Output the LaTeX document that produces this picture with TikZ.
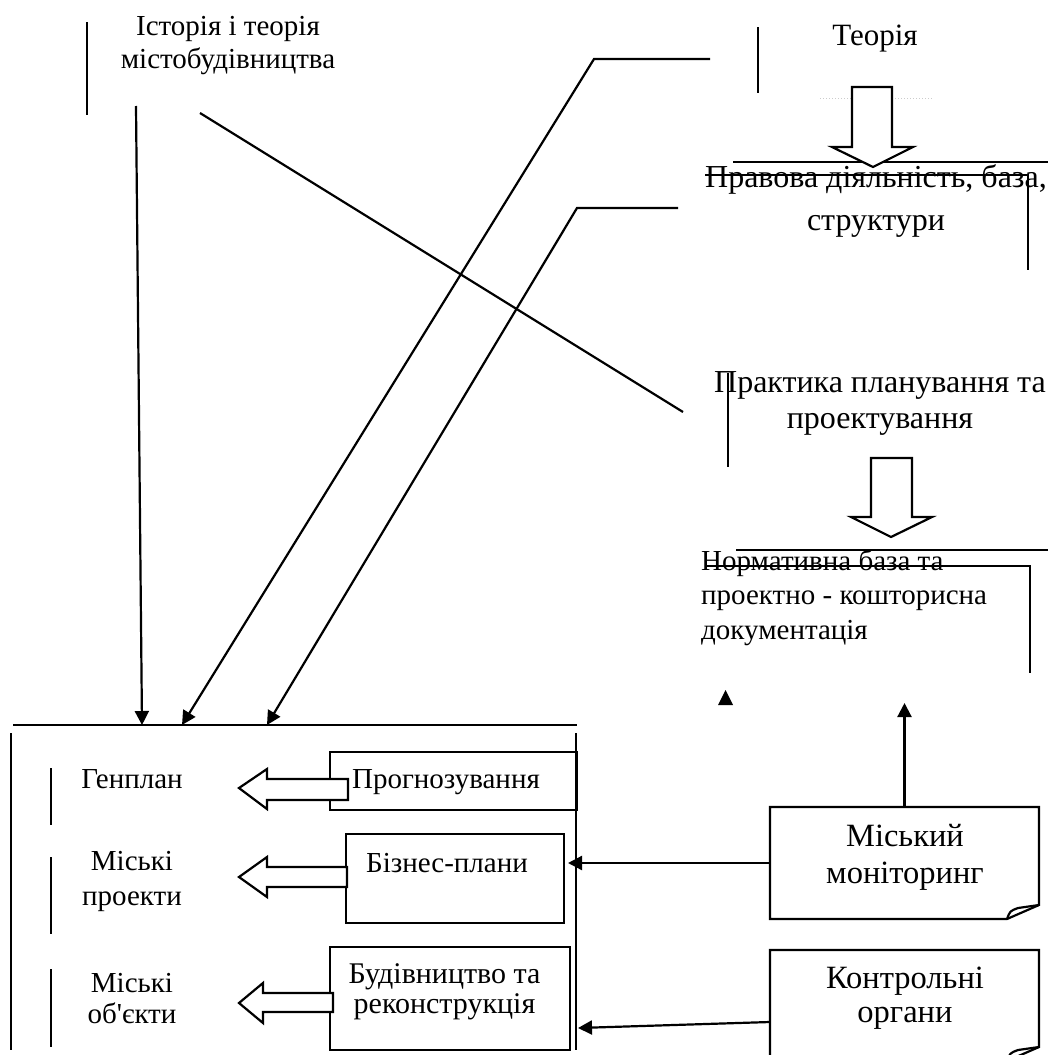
\documentclass[tikz,border=0pt]{standalone}
\usepackage{fontspec}
\setmainfont{Liberation Serif}
\usetikzlibrary{arrows.meta}

\begin{document}
\begin{tikzpicture}[x=1pt,y=-1pt,
  ln/.style={line width=2.2pt},
  arr/.style={line width=2.2pt,-{Triangle[length=14pt,width=14pt]}},
  txt/.style={font=\fontsize{29}{34}\selectfont,align=center,inner sep=0pt,anchor=base},
  box/.style={draw,line width=2.2pt,inner sep=0pt,outer sep=0pt},
  note/.style={inner sep=0pt,outer sep=0pt},
  blk/.style={draw,line width=2.2pt,fill=white,line join=miter},
]
\useasboundingbox (0,0) rectangle (1048,1055);

\node[txt,font=\fontsize{29}{33}\selectfont] (hist) at (228,68) {Історія і теорія\\містобудівництва};
\node[txt,font=\fontsize{31}{34}\selectfont] (theory) at (875,45) {Теорія};
\node[txt,font=\fontsize{32}{43}\selectfont] (law) at (876,230) {Правова діяльність, база,\\структури};
\node[txt,font=\fontsize{32}{36}\selectfont] (practice) at (880,428) {Практика планування та\\проектування};
\node[txt,align=left,anchor=base west,font=\fontsize{29}{34.5}\selectfont] (norm) at (701,639)
  {Нормативна база та\\проектно - кошторисна\\документація};

\node[txt] (genplan) at (132,788) {Генплан};
\node[txt,font=\fontsize{29}{35}\selectfont] (cproj) at (132,905) {Міські\\проекти};
\node[txt,font=\fontsize{29}{31}\selectfont] (cobj) at (132,1023) {Міські\\об\textquotesingle єкти};

\node[box,minimum width=247,minimum height=58] (forecast) at (453.5,781) {};
\node[txt] (forecast-t) at (446,788) {Прогнозування};
\node[box,minimum width=218,minimum height=89] (plans) at (455,878.5) {};
\node[txt] (plans-t) at (447,872) {Бізнес-плани};
\node[box,minimum width=240,minimum height=103] (build) at (450,998.5) {};
\node[txt,font=\fontsize{30}{30}\selectfont] (build-t) at (444.5,1013) {Будівництво та\\реконструкція};

\node[note,minimum width=269,minimum height=112] (monitor) at (904.5,863) {};
\node[txt,font=\fontsize{32.5}{37}\selectfont] (monitor-t) at (905,883) {Міський\\моніторинг};
\node[note,minimum width=269,minimum height=111] (control) at (904.5,1005.5) {};
\node[txt,font=\fontsize{32.5}{34}\selectfont] (control-t) at (905,1022) {Контрольні\\органи};

\foreach \n in {monitor,control}{
  \draw[ln] (\n.north west) -- (\n.north east) -- ([yshift=14pt]\n.south east)
    -- ([xshift=-32pt]\n.south east) -- (\n.south west) -- cycle;
  \draw[ln,line join=round] ([xshift=-32pt]\n.south east)
    .. controls ([shift={(-29pt,8pt)}]\n.south east) .. ([shift={(-21pt,11pt)}]\n.south east)
    -- ([yshift=14pt]\n.south east);
}

\coordinate (h-top) at (136,106);
\coordinate (t-end) at (710,59);
\coordinate (t-bend) at (594,59);
\coordinate (l-end) at (678,208);
\coordinate (l-bend) at (577,208);
\coordinate (d-start) at (200,113);
\coordinate (d-end) at (683,412);
\coordinate (in1) at (142,725);
\coordinate (in2) at (182,725);
\coordinate (in3) at (267,725);
\coordinate (m-up) at (904.5,703);
\coordinate (m-in) at (568,863);
\coordinate (c-in) at (578,1028);

\draw[ln] (13,725) -- (577,725);
\draw[ln] (11,733) -- (11,1050);
\draw[ln] (576,733) -- (576,1050);
\draw[ln] (51,768) -- (51,825);
\draw[ln] (51,857) -- (51,934);
\draw[ln] (51,969) -- (51,1047);
\draw[ln] (87,22) -- (87,115);
\draw[ln] (758,27) -- (758,93);
\draw[ln] (728,373) -- (728,467);
\draw[ln] (733,162) -- (1048,162);
\draw[ln] (705,175) -- (1028,175) -- (1028,270);
\draw[ln] (736,550) -- (1048,550);
\draw[ln] (707,566) -- (1030,566) -- (1030,673);
\draw[gray!40,line width=1pt,dotted] (820,98) -- (932,98);

\draw[arr] (h-top) -- (in1);
\draw[arr] (t-end) -- (t-bend) -- (in2);
\draw[arr] (l-end) -- (l-bend) -- (in3);
\draw[ln] (d-start) -- (d-end);
\draw[arr] (monitor.north) -- (m-up);
\draw[arr] (monitor.west) -- (m-in);
\draw[arr] ([yshift=-16.5pt]control.west) -- (c-in);
\fill (718,705) -- (733,705) -- (725.5,690) -- cycle;

\draw[blk] (852,87) -- (892,87) -- (892,147) -- (913,147) -- (873,167) -- (832,147) -- (852,147) -- cycle;
\draw[blk] (871,458) -- (912,458) -- (912,517) -- (932,517) -- (891,537) -- (851,517) -- (871,517) -- cycle;
\draw[blk] (348,779) -- (267,779) -- (267,769) -- (239,788) -- (267,809) -- (267,800) -- (348,800) -- cycle;
\draw[blk] (347,867) -- (267,867) -- (267,857) -- (239,877) -- (267,897) -- (267,887) -- (347,887) -- cycle;
\draw[blk] (333,993) -- (263,993) -- (263,983) -- (239,1003) -- (263,1023) -- (263,1012) -- (333,1012) -- cycle;
\end{tikzpicture}
\end{document}
